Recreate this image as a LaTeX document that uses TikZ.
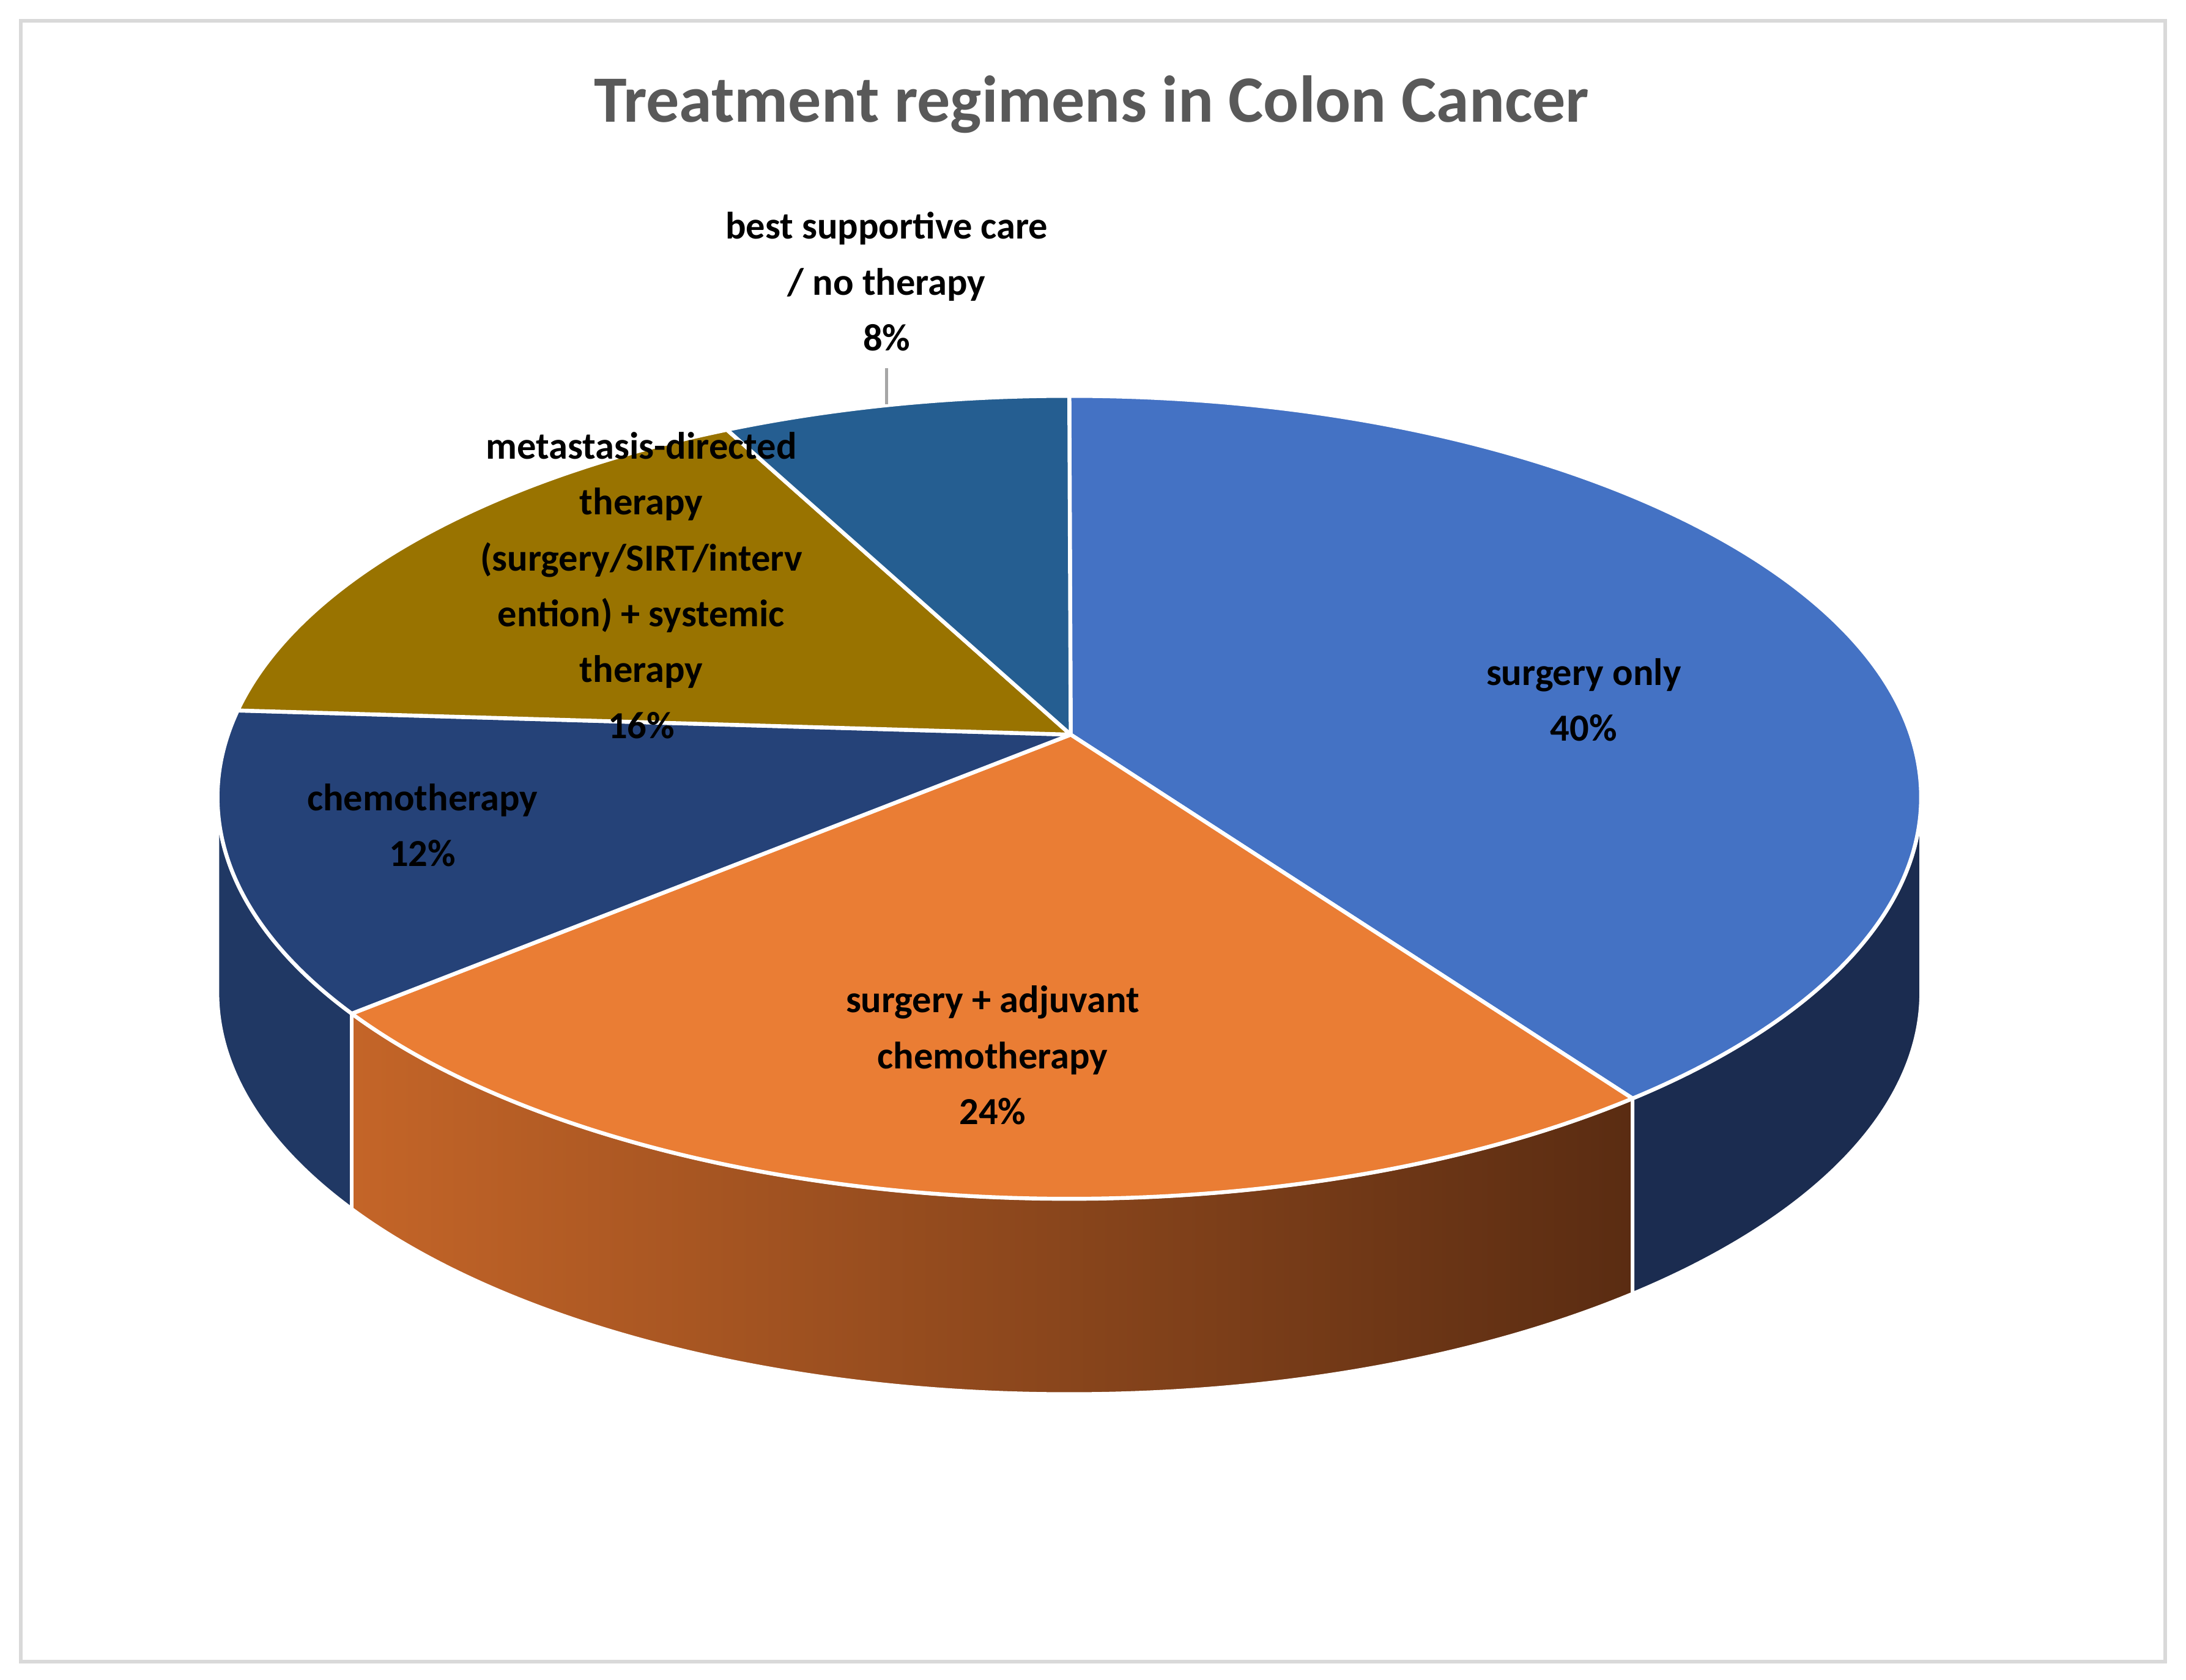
\documentclass[tikz,border=0pt]{standalone}
\usepackage{fontspec}
\setmainfont{Carlito}
\begin{document}
\begin{tikzpicture}[x=0.1mm,y=0.1mm,
  lbl/.style={font=\bfseries\fontsize{7.8}{11.4}\selectfont, align=center, text=black},
  wall/.style={draw=white, line width=0.7pt},
  topface/.style={draw=white, line width=0.8pt, line join=round},
  rr/.style={x radius=6.11cm, y radius=2.88cm}]
\useasboundingbox (0,0) rectangle (1568,1205);
\fill[white] (0,0) rectangle (1568,1205);
\draw[draw=black!15, line width=0.8pt] (15,13) rectangle (1553,1190);
\def\rim#1{({767+611*cos(#1)},{633+288*sin(#1)})}
% side walls
\draw[wall, fill={rgb,255:red,32;green,56;blue,100}] \rim{-180} arc[rr,start angle=-180,end angle=-147.4] -- ++(0,-140) arc[rr,start angle=-147.4,end angle=-180] -- cycle;
\draw[wall, left color={rgb,255:red,196;green,101;blue,40}, right color={rgb,255:red,90;green,44;blue,18}] \rim{-147.4} arc[rr,start angle=-147.4,end angle=-48.6] -- ++(0,-140) arc[rr,start angle=-48.6,end angle=-147.4] -- cycle;
\draw[wall, fill={rgb,255:red,27;green,44;blue,80}] \rim{-48.6} arc[rr,start angle=-48.6,end angle=0] -- ++(0,-140) arc[rr,start angle=0,end angle=-48.6] -- cycle;
% top face
\coordinate (A) at (768,678);
\draw[topface, fill={rgb,255:red,68;green,114;blue,196}] (A) -- \rim{90} arc[rr,start angle=90,end angle=-48.6] -- cycle;
\draw[topface, fill={rgb,255:red,234;green,125;blue,52}] (A) -- \rim{-48.6} arc[rr,start angle=-48.6,end angle=-147.4] -- cycle;
\draw[topface, fill={rgb,255:red,37;green,66;blue,120}] (A) -- \rim{-147.4} arc[rr,start angle=-147.4,end angle=-192.5] -- cycle;
\draw[topface, fill={rgb,255:red,153;green,115;blue,0}] (A) -- \rim{167.5} arc[rr,start angle=167.5,end angle=113.7] -- cycle;
\draw[topface, fill={rgb,255:red,37;green,94;blue,145}] (A) -- \rim{113.7} arc[rr,start angle=113.7,end angle=90] -- cycle;
% title
\node[font=\bfseries\fontsize{13.5}{16}\selectfont, text={rgb,255:red,89;green,89;blue,89}] (title) at (783,1130) {Treatment regimens in Colon Cancer};
% labels
\node[lbl] (bsc) at (636,1003) {best supportive care\\/ no therapy\\8\%};
\coordinate (bscpt) at (636,915);
\draw[black!35, line width=0.6pt] (bsc.south) -- (bscpt);
\node[lbl] (met) at (460,785) {metastasis-directed\\therapy\\(surgery/SIRT/interv\\ention) + systemic\\therapy\\16\%};
\node[lbl] (so) at (1136,703) {surgery only\\40\%};
\node[lbl] (ch) at (303,613) {chemotherapy\\12\%};
\node[lbl] (adj) at (712,448) {surgery + adjuvant\\chemotherapy\\24\%};
\end{tikzpicture}
\end{document}
